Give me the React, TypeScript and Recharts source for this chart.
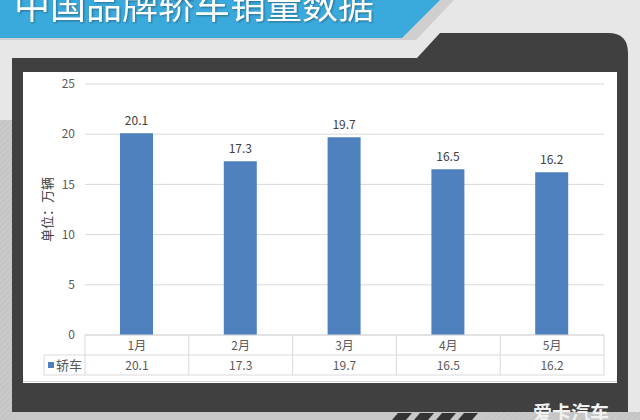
import React from 'react';
import { BarChart, Bar, XAxis, YAxis, CartesianGrid, LabelList } from 'recharts';

const months = ['1月', '2月', '3月', '4月', '5月'];
const sedanSales = [20.1, 17.3, 19.7, 16.5, 16.2];
const yTicks = [0, 5, 10, 15, 20, 25];

const seriesName = '轿车';
const title = '中国品牌轿车销量数据';
const unitLabel = '单位：万辆';

const data = months.map((m, i) => ({ month: m, sales: sedanSales[i] }));

const FONT = '"Noto Sans CJK SC", "Noto Sans", sans-serif';
const BLUE = '#4e80bd';
const GRID = '#d9d9d9';
const TEXT = '#595959';

const CHART_W = 596;
const CHART_H = 311;
const MARGIN = { top: 12, right: 14, left: 0, bottom: 0 };
const Y_W = 63;
const PLOT_W = CHART_W - MARGIN.right - MARGIN.left - Y_W;
const COL_W = PLOT_W / months.length;
const ROW_H = 20;

function TableTick(props: any) {
  const { x, y, payload } = props;
  const i = payload.index;
  const left = x - COL_W / 2;
  const right = x + COL_W / 2;
  return (
    <g>
      <line x1={left} y1={y} x2={left} y2={y + ROW_H * 2} stroke={GRID} />
      {i === months.length - 1 && <line x1={right} y1={y} x2={right} y2={y + ROW_H * 2} stroke={GRID} />}
      <line x1={left} y1={y + ROW_H} x2={right} y2={y + ROW_H} stroke={GRID} />
      <line x1={left} y1={y + ROW_H * 2} x2={right} y2={y + ROW_H * 2} stroke={GRID} />
      <text x={x} y={y + 14.5} textAnchor="middle" fontSize={12} fill={TEXT} fontFamily={FONT}>
        {payload.value}
      </text>
      <text x={x} y={y + ROW_H + 14.5} textAnchor="middle" fontSize={12} fill={TEXT} fontFamily={FONT}>
        {sedanSales[i]}
      </text>
      {i === 0 && (
        <g>
          <line x1={left - 41} y1={y + ROW_H} x2={left} y2={y + ROW_H} stroke={GRID} />
          <line x1={left - 41} y1={y + ROW_H * 2} x2={left} y2={y + ROW_H * 2} stroke={GRID} />
          <line x1={left - 41} y1={y + ROW_H} x2={left - 41} y2={y + ROW_H * 2} stroke={GRID} />
          <rect x={left - 37} y={y + ROW_H + 7} width={6} height={6} fill={BLUE} />
          <text x={left - 29} y={y + ROW_H + 15} fontSize={13} fill={TEXT} fontFamily={FONT}>
            {seriesName}
          </text>
        </g>
      )}
    </g>
  );
}

function Background() {
  return (
    <svg width={640} height={420} style={{ position: 'absolute', left: 0, top: 0 }}>
      <defs>
        <pattern id="hatch" width="4" height="4" patternUnits="userSpaceOnUse" patternTransform="rotate(45)">
          <rect width="4" height="4" fill="#c9c9c9" />
          <line x1="0" y1="0" x2="0" y2="4" stroke="#bdbdbd" strokeWidth="1.5" />
        </pattern>
      </defs>
      <rect x={0} y={0} width={640} height={420} fill="#e7e7e7" />
      <rect x={0} y={120} width={12} height={300} fill="url(#hatch)" />
      <rect x={0} y={412} width={640} height={8} fill="url(#hatch)" />
      {/* banner */}
      <polygon points="0,0 454,0 416,40 0,40" fill="#cfcfcf" />
      <polygon points="0,0 440,0 402,38 0,38" fill="#3aaadd" />
      {/* dark panel */}
      <path d="M12,58 L417,58 L440,33 L608,33 Q628,33 628,53 L628,412 L12,412 Z" fill="#404040" />
      {/* bottom stripe band */}
      <polygon points="12,413 492,413 486,420 12,420" fill="#c8c8c8" />
      {[0, 1, 2, 3].map((k) => (
        <polygon
          key={k}
          points={`${398 + k * 22},413 ${412 + k * 22},413 ${406 + k * 22},420 ${392 + k * 22},420`}
          fill="#333"
        />
      ))}
      {/* chart area */}
      <rect x={23} y={72} width={594} height={311} fill="#ffffff" />
      <line x1={23} y1={381.5} x2={617} y2={381.5} stroke="#d4d4d4" />
      <text
        x={14}
        y={19}
        fontSize={36}
        fill="#ffffff"
        fontFamily={FONT}
        style={{ filter: 'drop-shadow(1px 1px 1px rgba(0,0,0,0.35))' }}
      >
        {title}
      </text>
      <text x={533} y={420} fontSize={19} fontWeight={700} fill="#f2f2f2" fontFamily={FONT}>
        爱卡汽车
      </text>
    </svg>
  );
}

export default function App() {
  return (
    <div style={{ position: 'absolute', left: 0, top: 0, width: 640, height: 420, overflow: 'hidden', fontFamily: FONT }}>
      <Background />
      <div style={{ position: 'absolute', left: 22, top: 72 }}>
        <BarChart width={CHART_W} height={CHART_H} data={data} margin={MARGIN}>
          <CartesianGrid vertical={false} stroke={GRID} />
          <XAxis
            dataKey="month"
            height={48}
            axisLine={{ stroke: GRID }}
            tickLine={false}
            tickSize={0}
            tickMargin={0}
            interval={0}
            tick={<TableTick />}
          />
          <YAxis
            width={Y_W}
            domain={[0, 25]}
            ticks={yTicks}
            axisLine={false}
            tickLine={false}
            tickMargin={4}
            tick={{ fill: TEXT, fontSize: 12, fontFamily: FONT }}
            label={{
              value: unitLabel,
              angle: -90,
              position: 'insideLeft',
              offset: 25,
              style: { fill: '#404040', fontSize: 13, fontFamily: FONT, textAnchor: 'middle' },
            }}
          />
          <Bar dataKey="sales" fill={BLUE} barSize={33} isAnimationActive={false}>
            <LabelList dataKey="sales" position="top" offset={8} fill="#404040" fontSize={12} fontFamily={FONT} />
          </Bar>
        </BarChart>
      </div>
    </div>
  );
}
